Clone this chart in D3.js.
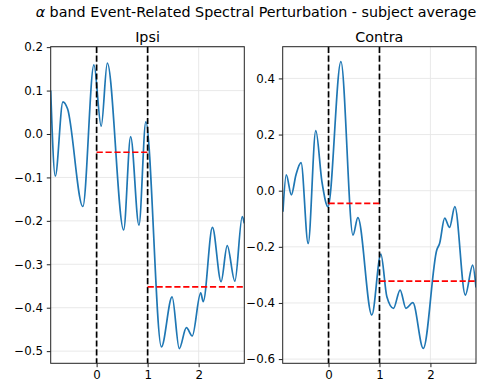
<!DOCTYPE html>
<html>
<head>
<meta charset="utf-8">
<script src="https://cdn.jsdelivr.net/npm/d3@7"></script>
<style>
  html, body { margin: 0; padding: 0; background: #fff; }
  svg { display: block; font-family: "DejaVu Sans", sans-serif; }
</style>
</head>
<body>
<svg id="chart" width="487" height="384"></svg>
<script>
// ---------------- DATA ----------------
const titleSymbol = "\u03b1";
const titleRest = " band Event-Related Spectral Perturbation - subject average";
const panelTitles = ["Ipsi", "Contra"];

const xTicks = [0, 1, 2];
const xLimits = [-0.9, 2.895];

const ipsiTime = [-0.90, -0.81, -0.66, -0.57, -0.27, -0.053, 0.09, 0.21, 0.53, 0.667, 0.83, 0.965,
                  1.27, 1.48, 1.62, 1.76, 1.875, 2.04, 2.09, 2.27, 2.44, 2.56, 2.71, 2.855, 2.895];
const ipsiValues = [0.100, -0.097, 0.074, 0.058, -0.167, 0.159, 0.018, 0.163, -0.221, -0.006, -0.210, 0.028,
                    -0.490, -0.375, -0.494, -0.446, -0.465, -0.366, -0.386, -0.215, -0.340, -0.257, -0.339, -0.190, -0.206];
const ipsiYTicks = [0.2, 0.1, 0.0, -0.1, -0.2, -0.3, -0.4, -0.5];
const ipsiYLimits = [-0.528, 0.201];
const ipsiBaselinePre = -0.042;
const ipsiBaselinePost = -0.352;

const contraTime = [-0.895, -0.83, -0.73, -0.64, -0.54, -0.40, -0.25, -0.13, -0.01, 0.243, 0.48, 0.576, 0.85,
                    1.027, 1.145, 1.275, 1.405, 1.52, 1.655, 1.86, 2.125, 2.18, 2.28, 2.375, 2.48, 2.685, 2.83, 2.895];
const contraValues = [-0.075, 0.056, -0.015, 0.056, 0.100, -0.188, 0.214, 0.032, -0.057, 0.460, -0.158, -0.096, -0.443,
                      -0.226, -0.378, -0.419, -0.354, -0.419, -0.399, -0.562, -0.211, -0.188, -0.098, -0.131, -0.057, -0.372, -0.265, -0.345];
const contraYTicks = [0.4, 0.2, 0.0, -0.2, -0.4, -0.6];
const contraYLimits = [-0.615, 0.513];
const contraBaselinePre = -0.045;
const contraBaselinePost = -0.322;

const eventMarkers = [0, 1];

// ---------------- LAYOUT ----------------
const svg = d3.select("#chart");
const plotTop = 46.7, plotBottom = 363.3;
const panels = [
  { left: 50.7, right: 244.3, time: ipsiTime, values: ipsiValues, yTicks: ipsiYTicks, yLim: ipsiYLimits,
    pre: ipsiBaselinePre, post: ipsiBaselinePost, title: panelTitles[0] },
  { left: 282.7, right: 476, time: contraTime, values: contraValues, yTicks: contraYTicks, yLim: contraYLimits,
    pre: contraBaselinePre, post: contraBaselinePost, title: panelTitles[1] }
];

const t = svg.append("text")
  .attr("x", 256).attr("y", 17.3)
  .attr("text-anchor", "middle")
  .attr("font-size", 14.3)
  .attr("fill", "#000");
t.append("tspan").attr("font-style", "italic").text(titleSymbol);
t.append("tspan").text(titleRest);

const fmt = d3.format(".1f");

panels.forEach((p, i) => {
  const x = d3.scaleLinear().domain(xLimits).range([p.left, p.right]);
  const y = d3.scaleLinear().domain(p.yLim).range([plotBottom, plotTop]);
  const g = svg.append("g");
  const clipId = "clip" + i;
  svg.append("clipPath").attr("id", clipId)
    .append("rect").attr("x", p.left).attr("y", plotTop)
    .attr("width", p.right - p.left).attr("height", plotBottom - plotTop);

  // grid
  g.selectAll(".gx").data(xTicks).join("line")
    .attr("x1", d => x(d)).attr("x2", d => x(d))
    .attr("y1", plotTop).attr("y2", plotBottom)
    .attr("stroke", "#e6e6e6").attr("stroke-width", 0.9);
  g.selectAll(".gy").data(p.yTicks).join("line")
    .attr("x1", p.left).attr("x2", p.right)
    .attr("y1", d => y(d)).attr("y2", d => y(d))
    .attr("stroke", "#e6e6e6").attr("stroke-width", 0.9);

  // curve
  const pts = p.time.map((tt, k) => [tt, p.values[k]]);
  g.append("path")
    .datum(pts)
    .attr("clip-path", `url(#${clipId})`)
    .attr("fill", "none")
    .attr("stroke", "#1f77b4")
    .attr("stroke-width", 1.7)
    .attr("stroke-linejoin", "round")
    .attr("d", d3.line().x(d => x(d[0])).y(d => y(d[1])).curve(d3.curveMonotoneX));

  // event markers
  g.selectAll(".ev").data(eventMarkers).join("line")
    .attr("x1", d => x(d)).attr("x2", d => x(d))
    .attr("y1", plotTop).attr("y2", plotBottom)
    .attr("stroke", "#000").attr("stroke-width", 1.7)
    .attr("stroke-dasharray", "6.2,2.7");

  // baselines
  const segs = [[0, 1, p.pre], [1, xLimits[1], p.post]];
  g.selectAll(".bl").data(segs).join("line")
    .attr("x1", d => x(d[0])).attr("x2", d => x(d[1]))
    .attr("y1", d => y(d[2])).attr("y2", d => y(d[2]))
    .attr("stroke", "#ff0000").attr("stroke-width", 1.7)
    .attr("stroke-dasharray", "6.2,2.7");

  // spines
  g.append("rect")
    .attr("x", p.left).attr("y", plotTop)
    .attr("width", p.right - p.left).attr("height", plotBottom - plotTop)
    .attr("fill", "none").attr("stroke", "#222").attr("stroke-width", 1);

  // axes
  const xa = g.append("g").attr("transform", `translate(0,${plotBottom})`)
    .call(d3.axisBottom(x).tickValues(xTicks).tickSize(3.9).tickPadding(3.9).tickFormat(d3.format("d")));
  const ya = g.append("g").attr("transform", `translate(${p.left},0)`)
    .call(d3.axisLeft(y).tickValues(p.yTicks).tickSize(3.9).tickPadding(3.9).tickFormat(fmt));
  [xa, ya].forEach(a => {
    a.select(".domain").remove();
    a.selectAll("line").attr("stroke", "#222").attr("stroke-width", 1);
    a.selectAll("text").attr("font-size", 11.8).attr("fill", "#000")
      .attr("font-family", "DejaVu Sans, sans-serif");
  });

  // panel title
  svg.append("text")
    .attr("x", (p.left + p.right) / 2).attr("y", 41.7)
    .attr("text-anchor", "middle")
    .attr("font-size", 14.3)
    .attr("fill", "#000")
    .text(p.title);
});
</script>
</body>
</html>
